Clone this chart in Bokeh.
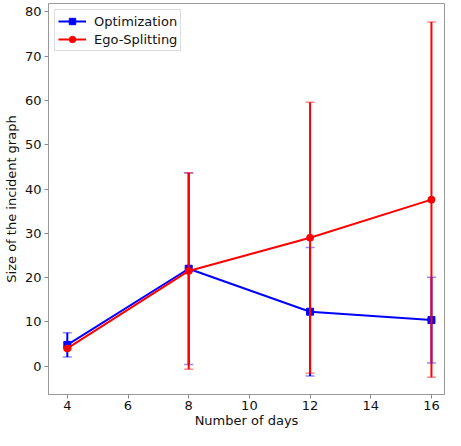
from bokeh.plotting import figure
from bokeh.embed import file_html
from bokeh.resources import INLINE
from bokeh.models import Range1d, FixedTicker, LegendItem, Legend

days = [4, 8, 12, 16]
opt_mean = [4.8, 22.0, 12.3, 10.4]
opt_err = [2.75, 21.6, 14.5, 9.7]
ego_mean = [4.0, 21.5, 29.0, 37.6]
ego_err = [0.3, 22.2, 30.6, 40.1]

x_ticks = [4, 6, 8, 10, 12, 14, 16]
y_ticks = [0, 10, 20, 30, 40, 50, 60, 70, 80]

p = figure(width=445, height=430, output_backend="svg", toolbar_location=None,
           x_range=Range1d(3.38, 16.43), y_range=Range1d(-6.4, 81.9),
           min_border_left=0, min_border_right=1, min_border_top=3, min_border_bottom=0)
p.xgrid.visible = False
p.ygrid.visible = False
p.outline_line_color = "#999999"
p.outline_line_width = 1

FONT = "DejaVu Sans"
for ax in (p.xaxis[0], p.yaxis[0]):
    ax.axis_line_color = "#999999"
    ax.major_tick_line_color = "#888888"
    ax.minor_tick_line_color = None
    ax.major_tick_out = 4
    ax.major_tick_in = 0
    ax.major_label_text_font = FONT
    ax.major_label_text_font_size = "13px"
    ax.major_label_text_color = "#111111"
    ax.axis_label_text_font = FONT
    ax.axis_label_text_font_size = "13px"
    ax.axis_label_text_font_style = "normal"
    ax.axis_label_text_color = "#111111"
p.xaxis.ticker = FixedTicker(ticks=x_ticks)
p.yaxis.ticker = FixedTicker(ticks=y_ticks)
p.xaxis.axis_label = "Number of days"
p.yaxis.axis_label = "Size of the incident graph"
p.xaxis.axis_label_standoff = 0
p.yaxis.axis_label_standoff = 3
p.xaxis.major_label_standoff = 2
p.yaxis.major_label_standoff = 3

items = []
for mean, err, color, marker, label in [
        (opt_mean, opt_err, "#0000ff", "square", "Optimization"),
        (ego_mean, ego_err, "#ff0000", "circle", "Ego-Splitting")]:
    lo = [m - e for m, e in zip(mean, err)]
    hi = [m + e for m, e in zip(mean, err)]
    p.segment(x0=days, y0=lo, x1=days, y1=hi, line_color=color, line_width=2)
    p.scatter(x=days, y=lo, marker="dash", size=9, line_color=color, line_alpha=0.45, line_width=1.5)
    p.scatter(x=days, y=hi, marker="dash", size=9, line_color=color, line_alpha=0.45, line_width=1.5)
    ln = p.line(x=days, y=mean, line_color=color, line_width=2)
    sc = p.scatter(x=days, y=mean, marker=marker, size=7, fill_color=color, line_color=color)
    items.append(LegendItem(label=label, renderers=[ln, sc]))

legend = Legend(items=items, location="top_left")
legend.label_text_font = FONT
legend.label_text_font_size = "13px"
legend.label_text_color = "#111111"
legend.border_line_color = "#dddddd"
legend.border_line_alpha = 1
legend.background_fill_alpha = 0.8
legend.glyph_width = 28
legend.glyph_height = 16
legend.spacing = 2
legend.padding = 3
legend.margin = 6
legend.label_standoff = 8
p.add_layout(legend)

open("out.html", "w").write(file_html(p, INLINE))
